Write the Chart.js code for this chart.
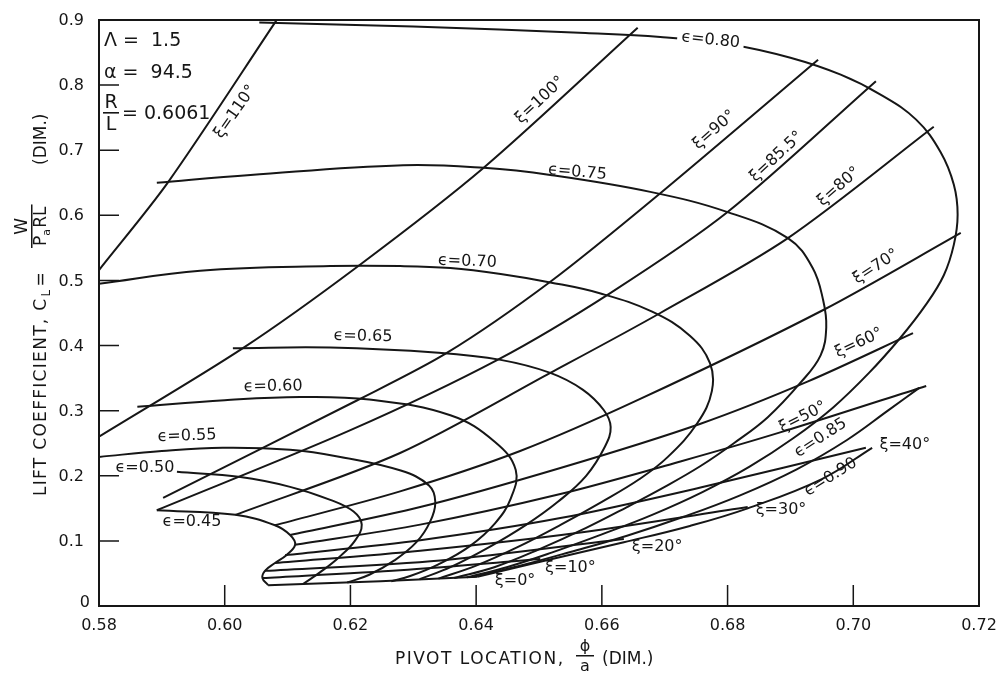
<!DOCTYPE html>
<html>
<head>
<meta charset="utf-8">
<script src="https://cdn.jsdelivr.net/npm/chart.js@4/dist/chart.umd.min.js"></script>
<style>
  html, body { margin: 0; padding: 0; background: #fff; }
  canvas { display: block; }
</style>
</head>
<body>
<canvas id="c" width="999" height="675"></canvas>
<script>
// axis ticks
const xTicks = [0.58, 0.60, 0.62, 0.64, 0.66, 0.68, 0.70, 0.72];
const xTickLabels = ['0.58', '0.60', '0.62', '0.64', '0.66', '0.68', '0.70', '0.72'];
const yTicks = [0, 0.1, 0.2, 0.3, 0.4, 0.5, 0.6, 0.7, 0.8, 0.9];
const yTickLabels = ['0', '0.1', '0.2', '0.3', '0.4', '0.5', '0.6', '0.7', '0.8', '0.9'];

// constant eccentricity curves [phi/a, CL]
const eps045 = [[0.5892,0.147],[0.6017,0.140],[0.6080,0.124],[0.6104,0.109],[0.6112,0.094],[0.6098,0.078],[0.6080,0.066],[0.6064,0.054],[0.6060,0.043],[0.6069,0.032]];
const eps050 = [[0.5924,0.206],[0.6025,0.198],[0.6104,0.183],[0.6168,0.163],[0.6205,0.145],[0.6218,0.125],[0.6207,0.100],[0.6182,0.075],[0.6152,0.052],[0.6125,0.034]];
const eps055 = [[0.5800,0.229],[0.5900,0.238],[0.5997,0.243],[0.6104,0.240],[0.6184,0.229],[0.6280,0.208],[0.6325,0.185],[0.6335,0.160],[0.6327,0.130],[0.6305,0.098],[0.6270,0.070],[0.6230,0.048],[0.6195,0.036]];
const eps060 = [[0.5861,0.306],[0.6000,0.316],[0.6120,0.321],[0.6230,0.317],[0.6359,0.293],[0.6430,0.252],[0.6463,0.209],[0.6455,0.165],[0.6430,0.127],[0.6390,0.092],[0.6340,0.064],[0.6295,0.046],[0.6265,0.038]];
const eps065 = [[0.6013,0.396],[0.6168,0.397],[0.6340,0.389],[0.6439,0.378],[0.6518,0.358],[0.6570,0.332],[0.6603,0.301],[0.6614,0.275],[0.6605,0.245],[0.6575,0.200],[0.6530,0.160],[0.6480,0.125],[0.6420,0.090],[0.6360,0.060],[0.6310,0.041]];
const eps070 = [[0.5800,0.495],[0.5961,0.515],[0.6168,0.522],[0.6279,0.522],[0.6359,0.519],[0.6439,0.510],[0.6518,0.497],[0.6598,0.480],[0.6680,0.452],[0.6740,0.415],[0.6772,0.373],[0.6775,0.330],[0.6752,0.281],[0.6705,0.229],[0.6660,0.195],[0.6600,0.160],[0.6535,0.125],[0.6465,0.090],[0.6400,0.062],[0.6340,0.042]];
const eps075 = [[0.5892,0.650],[0.6041,0.662],[0.6284,0.677],[0.6412,0.673],[0.6518,0.662],[0.6677,0.636],[0.6800,0.605],[0.6896,0.565],[0.6935,0.520],[0.6952,0.470],[0.6957,0.428],[0.6948,0.385],[0.6916,0.343],[0.6864,0.290],[0.6810,0.250],[0.6757,0.215],[0.6700,0.183],[0.6640,0.152],[0.6575,0.120],[0.6500,0.087],[0.6430,0.060],[0.6365,0.043]];
const eps080 = [[0.6055,0.896],[0.6300,0.890],[0.6574,0.880],[0.6693,0.874],[0.6807,0.862],[0.6900,0.842],[0.6980,0.816],[0.7044,0.785],[0.7100,0.747],[0.7139,0.697],[0.7160,0.647],[0.7166,0.601],[0.7160,0.555],[0.7144,0.508],[0.7115,0.462],[0.7075,0.412],[0.7025,0.358],[0.6968,0.305],[0.6905,0.258],[0.6835,0.214],[0.6760,0.175],[0.6680,0.140],[0.6600,0.110],[0.6520,0.082],[0.6450,0.060],[0.6385,0.044]];
const eps085 = [[0.6395,0.045],[0.6470,0.062],[0.6550,0.083],[0.6640,0.108],[0.6730,0.137],[0.6820,0.170],[0.6910,0.210],[0.6990,0.255],[0.7055,0.300],[0.7105,0.335]];
const eps090 = [[0.6402,0.045],[0.6502,0.068],[0.6635,0.098],[0.6740,0.123],[0.6832,0.150],[0.6950,0.195],[0.7030,0.243]];

// constant angle lines
const xi000 = [[0.6069,0.032],[0.6248,0.038],[0.6402,0.045]];
const xi010 = [[0.6060,0.043],[0.6279,0.055],[0.6502,0.072]];
const xi020 = [[0.6064,0.054],[0.6343,0.070],[0.6635,0.103]];
const xi030 = [[0.6080,0.066],[0.6311,0.085],[0.6566,0.113],[0.6832,0.152]];
const xi040 = [[0.6096,0.078],[0.6311,0.101],[0.6534,0.135],[0.6757,0.182],[0.7020,0.243]];
const xi050 = [[0.6112,0.094],[0.6311,0.125],[0.6534,0.172],[0.6725,0.222],[0.6885,0.267],[0.7116,0.338]];
const xi060 = [[0.6104,0.109],[0.6311,0.152],[0.6534,0.212],[0.6757,0.280],[0.6928,0.345],[0.7095,0.419]];
const xi070 = [[0.6080,0.124],[0.6279,0.176],[0.6470,0.238],[0.6661,0.318],[0.6953,0.455],[0.7171,0.573]];
const xi080 = [[0.6017,0.140],[0.6279,0.235],[0.6518,0.358],[0.6693,0.450],[0.6896,0.565],[0.7128,0.736]];
const xi085 = [[0.5892,0.147],[0.6200,0.270],[0.6434,0.378],[0.6614,0.481],[0.6800,0.605],[0.7036,0.806]];
const xi090 = [[0.5902,0.166],[0.6211,0.316],[0.6354,0.389],[0.6518,0.498],[0.6693,0.634],[0.6944,0.839]];
const xi100 = [[0.5800,0.260],[0.6029,0.396],[0.6211,0.521],[0.6412,0.673],[0.6657,0.888]];
const xi110 = [[0.5800,0.516],[0.5910,0.651],[0.6082,0.899]];

// curve labels: text, x, y, rotation (deg), blank background
const curveLabels = [
  ['ϵ=0.80', 0.6773, 0.869, 6, true],
  ['ϵ=0.75', 0.6561, 0.666, 5, false],
  ['ϵ=0.70', 0.6386, 0.529, 2, false],
  ['ϵ=0.65', 0.6220, 0.414, 1, false],
  ['ϵ=0.60', 0.6077, 0.337, -1, false],
  ['ϵ=0.55', 0.5940, 0.261, -2, false],
  ['ϵ=0.50', 0.5873, 0.212, 0, false],
  ['ϵ=0.45', 0.5948, 0.129, 0, false],
  ['ϵ=0.85', 0.6948, 0.258, -33, false],
  ['ϵ=0.90', 0.6964, 0.198, -32, false],
  ['ξ=110°', 0.6017, 0.759, -55, false],
  ['ξ=100°', 0.6502, 0.777, -43, false],
  ['ξ=90°', 0.6779, 0.731, -41, false],
  ['ξ=85.5°', 0.6878, 0.690, -43, false],
  ['ξ=80°', 0.6977, 0.644, -41, false],
  ['ξ=70°', 0.7036, 0.521, -33, false],
  ['ξ=60°', 0.7009, 0.404, -25, false],
  ['ξ=50°', 0.6920, 0.290, -27, false],
  ['ξ=40°', 0.7082, 0.247, 0, false],
  ['ξ=30°', 0.6885, 0.147, 0, false],
  ['ξ=20°', 0.6688, 0.091, 0, false],
  ['ξ=10°', 0.6550, 0.058, 0, false],
  ['ξ=0°', 0.6462, 0.039, 0, false]
];

const epsCurves = [eps045, eps050, eps055, eps060, eps065, eps070, eps075, eps080, eps085, eps090];
const xiLines = [xi000, xi010, xi020, xi030, xi040, xi050, xi060, xi070, xi080, xi085, xi090, xi100, xi110];

const ink = '#161616';
const font = '"DejaVu Sans", sans-serif';

function toSet(pts, tension) {
  return {
    data: pts.map(p => ({ x: p[0], y: p[1] })),
    showLine: true,
    fill: false,
    borderColor: ink,
    borderWidth: 2,
    pointRadius: 0,
    tension: tension
  };
}

const datasets = [
  ...epsCurves.map(c => toSet(c, 0.4)),
  ...xiLines.map(c => toSet(c, 0.3))
];

const decor = {
  id: 'decor',
  beforeDraw(chart) {
    const ctx = chart.ctx;
    ctx.save();
    ctx.fillStyle = '#fff';
    ctx.fillRect(0, 0, chart.width, chart.height);
    ctx.restore();
  },
  afterDatasetsDraw(chart) {
    const ctx = chart.ctx;
    const xs = chart.scales.x, ys = chart.scales.y;
    const a = chart.chartArea;
    ctx.save();
    ctx.strokeStyle = ink;
    ctx.fillStyle = ink;

    // curve labels
    ctx.font = '16px ' + font;
    ctx.textAlign = 'center';
    ctx.textBaseline = 'middle';
    curveLabels.forEach(l => {
      const px = xs.getPixelForValue(l[1]);
      const py = ys.getPixelForValue(l[2]);
      ctx.save();
      ctx.translate(px, py);
      ctx.rotate(l[3] * Math.PI / 180);
      if (l[4]) {
        const w = ctx.measureText(l[0]).width;
        ctx.fillStyle = '#fff';
        ctx.fillRect(-w / 2 - 4, -8, w + 8, 16);
        ctx.fillStyle = ink;
      }
      ctx.fillText(l[0], 0, 0);
      ctx.restore();
    });

    // frame
    ctx.lineWidth = 2;
    ctx.strokeRect(a.left, a.top, a.right - a.left, a.bottom - a.top);

    // inward ticks
    ctx.lineWidth = 1.5;
    ctx.beginPath();
    yTicks.forEach(v => {
      if (v <= 0 || v >= 0.9) return;
      const py = ys.getPixelForValue(v);
      ctx.moveTo(a.left, py);
      ctx.lineTo(a.left + 20, py);
    });
    xTicks.forEach(v => {
      if (v <= 0.58 || v >= 0.72) return;
      const px = xs.getPixelForValue(v);
      ctx.moveTo(px, a.bottom);
      ctx.lineTo(px, a.bottom - 21);
    });
    ctx.stroke();

    // tick labels
    ctx.font = '16px ' + font;
    ctx.textAlign = 'center';
    ctx.textBaseline = 'alphabetic';
    xTicks.forEach((v, i) => {
      ctx.fillText(xTickLabels[i], xs.getPixelForValue(v), a.bottom + 24);
    });
    ctx.textAlign = 'right';
    ctx.textBaseline = 'middle';
    yTicks.forEach((v, i) => {
      const py = ys.getPixelForValue(v);
      ctx.fillText(yTickLabels[i], v === 0 ? 90 : 84, v === 0 ? py - 3 : py + 1);
    });

    // parameters
    ctx.font = '19px ' + font;
    ctx.textAlign = 'left';
    ctx.textBaseline = 'alphabetic';
    ctx.fillText('Λ =  1.5', 104, 46);
    ctx.fillText('α =  94.5', 104, 78);
    ctx.textAlign = 'center';
    ctx.fillText('R', 111, 108);
    ctx.fillText('L', 111, 130);
    ctx.fillRect(103, 112, 16, 1.6);
    ctx.textAlign = 'left';
    ctx.fillText('= 0.6061', 122, 119);

    // x title
    ctx.font = '17px ' + font;
    ctx.letterSpacing = '1.5px';
    ctx.textAlign = 'left';
    ctx.fillText('PIVOT LOCATION,', 395, 664);
    ctx.letterSpacing = '0px';
    ctx.textAlign = 'center';
    ctx.font = '16px ' + font;
    ctx.fillText('ϕ', 585, 651);
    ctx.fillRect(576, 655, 18, 1.5);
    ctx.fillText('a', 585, 671);
    ctx.textAlign = 'left';
    ctx.font = '17px ' + font;
    ctx.fillText('(DIM.)', 602, 664);

    // y title (rotated; along-axis offsets measured from y = 496)
    ctx.save();
    ctx.translate(46, 496);
    ctx.rotate(-Math.PI / 2);
    ctx.font = '17px ' + font;
    ctx.letterSpacing = '1.3px';
    ctx.textAlign = 'left';
    const t1 = 'LIFT COEFFICIENT, C';
    ctx.fillText(t1, 0, 0);
    let xx = ctx.measureText(t1).width;
    ctx.letterSpacing = '0px';
    ctx.font = '12px ' + font;
    ctx.fillText('L', xx + 1, 4);
    xx += 10;
    ctx.font = '17px ' + font;
    ctx.fillText('=', xx + 1, 0);
    xx = 250;
    const dw = ctx.measureText('P').width;
    ctx.fillText('P', xx, 0);
    ctx.font = '11px ' + font;
    ctx.fillText('a', xx + dw, 4);
    ctx.font = '17px ' + font;
    const rl = ctx.measureText('RL').width;
    ctx.fillText('RL', xx + dw + 8, 0);
    const fw = dw + 8 + rl;
    ctx.fillRect(xx - 2, -15, fw + 4, 1.5);
    ctx.textAlign = 'center';
    ctx.fillText('W', xx + fw / 2, -19);
    ctx.textAlign = 'left';
    ctx.fillText('(DIM.)', 331, 0);
    ctx.restore();

    ctx.restore();
  }
};

new Chart(document.getElementById('c'), {
  type: 'scatter',
  data: { datasets: datasets },
  options: {
    responsive: false,
    animation: false,
    devicePixelRatio: 1,
    layout: { padding: { left: 99, right: 20, top: 20, bottom: 69 } },
    plugins: { legend: { display: false }, tooltip: { enabled: false } },
    scales: {
      x: { type: 'linear', min: 0.58, max: 0.72, display: false },
      y: { type: 'linear', min: 0, max: 0.9, display: false }
    }
  },
  plugins: [decor]
});
</script>
</body>
</html>
